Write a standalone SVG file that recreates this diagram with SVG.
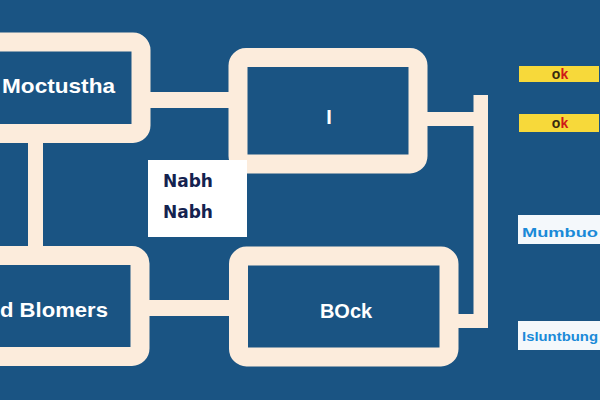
<svg xmlns="http://www.w3.org/2000/svg" width="600" height="400" viewBox="0 0 600 400">
<style>
.box{fill:#1a5483;stroke:#fcecdc;stroke-width:19}
.wire{fill:#fcecdc}
.lbl{font-family:"Liberation Sans",Arial,sans-serif;fill:#ffffff;font-weight:bold}
.note{font-family:"DejaVu Sans","Liberation Sans",sans-serif;fill:#14224f;font-size:17px;font-weight:600}
.ok{font-family:"Liberation Sans",Arial,sans-serif;font-size:14px;font-weight:bold}
.tag{font-family:"Liberation Sans",Arial,sans-serif;font-size:13px;font-weight:bold;fill:#1a8ad8}
</style>
<rect width="600" height="400" fill="#1a5483"/>
<g id="connectors">
<rect class="wire" x="148" y="92" width="84" height="16"/>
<rect class="wire" x="28" y="138" width="15" height="114"/>
<rect class="wire" x="148" y="300" width="84" height="16"/>
<rect class="wire" x="425" y="112" width="62" height="14"/>
<rect class="wire" x="473.5" y="95" width="14.5" height="233"/>
<rect class="wire" x="455" y="314" width="33" height="14"/>
</g>
<g id="node-moctustha">
<rect class="box" x="-20" y="42" width="161" height="91.5" rx="8"/>
<text class="lbl" x="2" y="93" font-size="21" textLength="113" lengthAdjust="spacingAndGlyphs">Moctustha</text>
</g>
<g id="node-top">
<rect class="box" x="238" y="57.5" width="180" height="106.5" rx="8"/>
<text class="lbl" x="329" y="124" font-size="20" text-anchor="middle">I</text>
</g>
<g id="node-blomers">
<rect class="box" x="-20" y="255.5" width="160" height="101" rx="8"/>
<text class="lbl" x="0" y="317" font-size="21" font-weight="normal" textLength="108" lengthAdjust="spacingAndGlyphs">d Blomers</text>
</g>
<g id="node-bock">
<rect class="box" x="238.5" y="256" width="210.5" height="101" rx="8"/>
<text class="lbl" x="346" y="318" font-size="20" text-anchor="middle">BOck</text>
</g>
<g id="note">
<rect x="148" y="160" width="99" height="77" fill="#ffffff"/>
<text class="note" x="163" y="187">Nabh</text>
<text class="note" x="163" y="218">Nabh</text>
</g>
<g id="ok-1">
<rect x="519" y="66" width="80" height="16" fill="#f7d93a"/>
<text class="ok" x="560" y="79" text-anchor="middle"><tspan fill="#3a2a10">o</tspan><tspan fill="#d01818">k</tspan></text>
</g>
<g id="ok-2">
<rect x="519" y="114" width="80" height="18" fill="#f7d93a"/>
<text class="ok" x="560" y="128" text-anchor="middle"><tspan fill="#3a2a10">o</tspan><tspan fill="#d01818">k</tspan></text>
</g>
<g id="tag-1">
<rect x="518" y="215" width="82" height="29" fill="#f4f8fb"/>
<text class="tag" x="522" y="237" textLength="76" lengthAdjust="spacingAndGlyphs">Mumbuo</text>
</g>
<g id="tag-2">
<rect x="518" y="321" width="82" height="29" fill="#f4f8fb"/>
<text class="tag" x="522" y="341" textLength="76" lengthAdjust="spacingAndGlyphs">Isluntbung</text>
</g>
</svg>
